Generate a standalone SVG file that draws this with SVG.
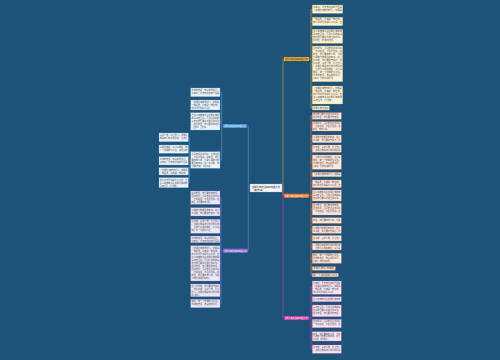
<svg xmlns="http://www.w3.org/2000/svg" width="500" height="360" viewBox="0 0 500 360">
<style>
.t{font-family:"Noto Sans CJK SC","Noto Sans",sans-serif;font-size:2.3px;fill:#555}
.lb{font-family:"Noto Sans CJK SC","Noto Sans",sans-serif;font-size:2.4px;fill:#fff}
.ln{fill:none;stroke-width:0.6}
.c1{fill:#eaf3fb;stroke:#6fa8dc;stroke-width:0.3}
.c2{fill:#ebe7f7;stroke:#8e7dd6;stroke-width:0.3}
.c3{fill:#fdf3d8;stroke:#d8b258;stroke-width:0.3}
.c4{fill:#fde6dc;stroke:#e89066;stroke-width:0.3}
.c5{fill:#f8e4f4;stroke:#cf5cbd;stroke-width:0.3}
</style>
<rect width="500" height="360" fill="#1d5378"/>
<g id="connectors">
<path class="ln" stroke="#5b9bd5" d="M250,188 H248.3 V126 H247"/>
<path class="ln" stroke="#8874d8" d="M248.3,188 V250.7 H248"/>
<path class="ln" stroke="#d6a940" d="M282,188 H283 V59 H284"/>
<path class="ln" stroke="#ea7a40" d="M283,188 V195.7 H284"/>
<path class="ln" stroke="#c640ad" d="M283,188 V318 H284"/>
<path class="ln" stroke="#5b9bd5" d="M223,126 H221.7 M221.7,92.35 V160 M220,92.35 H221.7 M220,105 H221.7 M220,121.35 H221.7 M220,160 H221.7"/>
<path class="ln" stroke="#5b9bd5" d="M190.7,160 H189.3 M189.3,137.35 V182.7 M188.3,137.35 H189.3 M188.3,149.15 H189.3 M188.3,160.85 H189.3 M188.3,171.35 H189.3 M188.3,182.7 H189.3"/>
<path class="ln" stroke="#8874d8" d="M223,250.7 H221 M221,197.65 V303.5 M220,197.65 H221 M220,211.85 H221 M220,226.3 H221 M220,239.35 H221 M220,263.35 H221 M220,290.35 H221 M220,303.5 H221"/>
<path class="ln" stroke="#d6a940" d="M309,59 H311 M311,9.15 V108 M311,9.15 H312.3 M311,21.5 H312.3 M311,36.3 H312.3 M311,63.85 H312.3 M311,95 H312.3 M311,108 H312.3"/>
<path class="ln" stroke="#ea7a40" d="M309,195.7 H311 M311,115.95 V275.05 M311,115.95 H312.3 M311,126.35 H312.3 M311,138.85 H312.3 M311,148.65 H312.3 M311,162.15 H312.3 M311,174.5 H312.3 M311,183.85 H312.3 M311,195.5 H312.3 M311,209.15 H312.3 M311,220.5 H312.3 M311,229.65 H312.3 M311,238.25 H312.3 M311,246.65 H312.3 M311,258.3 H312.3 M311,268.45 H312.3 M311,275.05 H312.3"/>
<path class="ln" stroke="#c640ad" d="M309,318 H311 M311,287.65 V349.15 M311,287.65 H312.3 M311,299.2 H312.3 M311,310.85 H312.3 M311,323.5 H312.3 M311,336.35 H312.3 M311,349.15 H312.3"/>
</g>
<g id="center">
<rect x="250" y="184" width="32" height="8" fill="#f4f6f8" stroke="#9ab" stroke-width="0.3"/>
<text class="t" x="252" y="187.6" textLength="28" lengthAdjust="spacingAndGlyphs" style="fill:#333">文明礼貌演讲稿四年级范文</text>
<text class="t" x="252" y="190.6" textLength="13" lengthAdjust="spacingAndGlyphs" style="fill:#333">（精选5篇）</text>
</g>
<g id="branch1">
<rect x="223" y="124" width="24" height="4" fill="#3d8fd1"/>
<text class="lb" x="224" y="126.9" textLength="22" lengthAdjust="spacingAndGlyphs">文明礼貌演讲稿四年级范文1</text>
</g>
<g id="branch2">
<rect x="223" y="248.7" width="25" height="4" fill="#7a62d0"/>
<text class="lb" x="224" y="251.6" textLength="23" lengthAdjust="spacingAndGlyphs">文明礼貌演讲稿四年级范文2</text>
</g>
<g id="branch3">
<rect x="284" y="57" width="25" height="4" fill="#e3ac34"/>
<text class="lb" x="285" y="59.9" textLength="23" lengthAdjust="spacingAndGlyphs" style="fill:#5a3a00">文明礼貌演讲稿四年级范文3</text>
</g>
<g id="branch4">
<rect x="284" y="193.7" width="25" height="4" fill="#ec6f2c"/>
<text class="lb" x="285" y="196.6" textLength="23" lengthAdjust="spacingAndGlyphs">文明礼貌演讲稿四年级范文4</text>
</g>
<g id="branch5">
<rect x="284" y="316" width="25" height="4" fill="#c8349f"/>
<text class="lb" x="285" y="318.9" textLength="23" lengthAdjust="spacingAndGlyphs">文明礼貌演讲稿四年级范文5</text>
</g>
<g id="b1-boxes">
<rect class="c1" x="190.7" y="88" width="29.3" height="8.7"/>
<text class="t" x="191.5" y="90.8" textLength="27.7" lengthAdjust="spacingAndGlyphs">尊敬的老师，亲爱的同学们：</text>
<text class="t" x="191.5" y="93.8" textLength="27.7" lengthAdjust="spacingAndGlyphs">大家好！今天我演讲的题目是</text>
<rect class="c1" x="190.7" y="100" width="29.3" height="10"/>
<text class="t" x="191.5" y="102.8" textLength="27.7" lengthAdjust="spacingAndGlyphs">《文明礼貌伴我行》。文明是</text>
<text class="t" x="191.5" y="105.8" textLength="27.7" lengthAdjust="spacingAndGlyphs">一种品质，礼貌是一种修养。</text>
<text class="t" x="191.5" y="108.8" textLength="18" lengthAdjust="spacingAndGlyphs">我们中华民族是礼仪之邦</text>
<rect class="c1" x="190.7" y="112.7" width="29.3" height="17.3"/>
<text class="t" x="191.5" y="115.5" textLength="27.7" lengthAdjust="spacingAndGlyphs">自古以来就有许多文明礼貌的</text>
<text class="t" x="191.5" y="118.5" textLength="27.7" lengthAdjust="spacingAndGlyphs">故事流传至今。孔融让梨的故</text>
<text class="t" x="191.5" y="121.5" textLength="27.7" lengthAdjust="spacingAndGlyphs">事告诉我们要学会谦让和尊重</text>
<text class="t" x="191.5" y="124.5" textLength="27.7" lengthAdjust="spacingAndGlyphs">。在学校里，我们要尊敬老师</text>
<text class="t" x="191.5" y="127.5" textLength="16" lengthAdjust="spacingAndGlyphs">，团结同学，互相帮助。</text>
<rect class="c1" x="190.7" y="151.7" width="29.3" height="16.6"/>
<text class="t" x="191.5" y="154.5" textLength="27.7" lengthAdjust="spacingAndGlyphs">见到老师主动问好，不说脏话</text>
<text class="t" x="191.5" y="157.5" textLength="27.7" lengthAdjust="spacingAndGlyphs">，不乱扔垃圾。在家里，我们</text>
<text class="t" x="191.5" y="160.5" textLength="27.7" lengthAdjust="spacingAndGlyphs">要孝敬父母，帮助父母做力所</text>
<text class="t" x="191.5" y="163.5" textLength="27.7" lengthAdjust="spacingAndGlyphs">能及的家务。在公共场所，我</text>
<text class="t" x="191.5" y="166.5" textLength="20" lengthAdjust="spacingAndGlyphs">们要遵守秩序，排队等候。</text>
<rect class="c1" x="159" y="133" width="29.3" height="8.7"/>
<text class="t" x="159.8" y="135.8" textLength="27.7" lengthAdjust="spacingAndGlyphs">爱护公物，礼让他人。文明礼</text>
<text class="t" x="159.8" y="138.8" textLength="27.7" lengthAdjust="spacingAndGlyphs">貌是我们成长的阶梯，让我们</text>
<rect class="c1" x="159" y="145" width="29.3" height="8.3"/>
<text class="t" x="159.8" y="147.8" textLength="27.7" lengthAdjust="spacingAndGlyphs">从现在做起，从小事做起，做</text>
<text class="t" x="159.8" y="150.8" textLength="27.7" lengthAdjust="spacingAndGlyphs">一个文明的小学生。谢谢大家</text>
<rect class="c1" x="159" y="156.7" width="29.3" height="8.3"/>
<text class="t" x="159.8" y="159.5" textLength="27.7" lengthAdjust="spacingAndGlyphs">尊敬的老师，亲爱的同学们：</text>
<text class="t" x="159.8" y="162.5" textLength="27.7" lengthAdjust="spacingAndGlyphs">大家好！今天我演讲的题目是</text>
<rect class="c1" x="159" y="167.7" width="29.3" height="7.3"/>
<text class="t" x="159.8" y="170.5" textLength="27.7" lengthAdjust="spacingAndGlyphs">《文明礼貌伴我行》。文明是</text>
<text class="t" x="159.8" y="173.5" textLength="27.7" lengthAdjust="spacingAndGlyphs">一种品质，礼貌是一种修养。</text>
<rect class="c1" x="159" y="177.7" width="29.3" height="10"/>
<text class="t" x="159.8" y="180.5" textLength="27.7" lengthAdjust="spacingAndGlyphs">我们中华民族是礼仪之邦，自</text>
<text class="t" x="159.8" y="183.5" textLength="27.7" lengthAdjust="spacingAndGlyphs">古以来就有许多文明礼貌的故</text>
<text class="t" x="159.8" y="186.5" textLength="18" lengthAdjust="spacingAndGlyphs">事流传至今，代代相传。</text>
</g>
<g id="b2-boxes">
<rect class="c2" x="190.7" y="191" width="29.3" height="13.3"/>
<text class="t" x="191.5" y="193.8" textLength="27.7" lengthAdjust="spacingAndGlyphs">在学校里，我们要尊敬老师，</text>
<text class="t" x="191.5" y="196.8" textLength="27.7" lengthAdjust="spacingAndGlyphs">团结同学，见到老师主动问好</text>
<text class="t" x="191.5" y="199.8" textLength="27.7" lengthAdjust="spacingAndGlyphs">，不说脏话，不乱扔垃圾。在</text>
<text class="t" x="191.5" y="202.8" textLength="20" lengthAdjust="spacingAndGlyphs">家里，我们要孝敬父母。</text>
<rect class="c2" x="190.7" y="207.7" width="29.3" height="8.3"/>
<text class="t" x="191.5" y="210.5" textLength="27.7" lengthAdjust="spacingAndGlyphs">父母做力所能及的家务。在公</text>
<text class="t" x="191.5" y="213.5" textLength="27.7" lengthAdjust="spacingAndGlyphs">共场所，我们要遵守秩序，排</text>
<rect class="c2" x="190.7" y="219.3" width="29.3" height="14"/>
<text class="t" x="191.5" y="222.1" textLength="27.7" lengthAdjust="spacingAndGlyphs">队等候，爱护公物，礼让他人</text>
<text class="t" x="191.5" y="225.1" textLength="27.7" lengthAdjust="spacingAndGlyphs">。文明礼貌是我们成长的阶梯</text>
<text class="t" x="191.5" y="228.1" textLength="27.7" lengthAdjust="spacingAndGlyphs">，让我们从现在做起，从小事</text>
<text class="t" x="191.5" y="231.1" textLength="20" lengthAdjust="spacingAndGlyphs">做起，做一个文明的小学生。</text>
<rect class="c2" x="190.7" y="236" width="29.3" height="6.7"/>
<text class="t" x="191.5" y="238.8" textLength="27.7" lengthAdjust="spacingAndGlyphs">尊敬的老师，亲爱的同学们：</text>
<text class="t" x="191.5" y="241.6" textLength="27.7" lengthAdjust="spacingAndGlyphs">大家好！今天我演讲的题目是</text>
<rect class="c2" x="190.7" y="245.7" width="29.3" height="35.3"/>
<text class="t" x="191.5" y="248.5" textLength="27.7" lengthAdjust="spacingAndGlyphs">《文明礼貌伴我行》。文明是</text>
<text class="t" x="191.5" y="251.5" textLength="27.7" lengthAdjust="spacingAndGlyphs">一种品质，礼貌是一种修养。</text>
<text class="t" x="191.5" y="254.5" textLength="27.7" lengthAdjust="spacingAndGlyphs">我们中华民族是礼仪之邦，自</text>
<text class="t" x="191.5" y="257.5" textLength="27.7" lengthAdjust="spacingAndGlyphs">古以来就有许多文明礼貌的故</text>
<text class="t" x="191.5" y="260.5" textLength="27.7" lengthAdjust="spacingAndGlyphs">事流传至今。孔融让梨的故事</text>
<text class="t" x="191.5" y="263.5" textLength="27.7" lengthAdjust="spacingAndGlyphs">告诉我们要学会谦让和尊重。</text>
<text class="t" x="191.5" y="266.5" textLength="27.7" lengthAdjust="spacingAndGlyphs">在学校里，我们要尊敬老师，</text>
<text class="t" x="191.5" y="269.5" textLength="27.7" lengthAdjust="spacingAndGlyphs">团结同学，见到老师主动问好</text>
<text class="t" x="191.5" y="272.5" textLength="27.7" lengthAdjust="spacingAndGlyphs">，不说脏话，不乱扔垃圾。在</text>
<text class="t" x="191.5" y="275.5" textLength="27.7" lengthAdjust="spacingAndGlyphs">家里，我们要孝敬父母，帮助</text>
<text class="t" x="191.5" y="278.5" textLength="19" lengthAdjust="spacingAndGlyphs">父母做力所能及的家务。</text>
<rect class="c2" x="190.7" y="284" width="29.3" height="12.7"/>
<text class="t" x="191.5" y="286.8" textLength="27.7" lengthAdjust="spacingAndGlyphs">在公共场所，我们要遵守秩序</text>
<text class="t" x="191.5" y="289.8" textLength="27.7" lengthAdjust="spacingAndGlyphs">，排队等候，爱护公物，礼让</text>
<text class="t" x="191.5" y="292.8" textLength="27.7" lengthAdjust="spacingAndGlyphs">他人。文明礼貌是我们成长的</text>
<text class="t" x="191.5" y="295.6" textLength="10" lengthAdjust="spacingAndGlyphs">阶梯。</text>
<rect class="c2" x="190.7" y="299.3" width="29.3" height="8.4"/>
<text class="t" x="191.5" y="302.1" textLength="27.7" lengthAdjust="spacingAndGlyphs">做起，做一个文明的小学生。</text>
<text class="t" x="191.5" y="305.1" textLength="27.7" lengthAdjust="spacingAndGlyphs">尊敬的老师，亲爱的同学们：</text>
</g>
<g id="b3-boxes">
<rect class="c3" x="312.3" y="5" width="30.4" height="8.3"/>
<text class="t" x="313.1" y="7.8" textLength="28.8" lengthAdjust="spacingAndGlyphs">大家好！今天我演讲的题目是</text>
<text class="t" x="313.1" y="10.8" textLength="28.8" lengthAdjust="spacingAndGlyphs">《文明礼貌伴我行》。文明是</text>
<rect class="c3" x="312.3" y="17.3" width="30.4" height="8.4"/>
<text class="t" x="313.1" y="20.1" textLength="28.8" lengthAdjust="spacingAndGlyphs">一种品质，礼貌是一种修养。</text>
<text class="t" x="313.1" y="23.1" textLength="28.8" lengthAdjust="spacingAndGlyphs">我们中华民族是礼仪之邦，自</text>
<rect class="c3" x="312.3" y="29.3" width="30.4" height="14"/>
<text class="t" x="313.1" y="32.1" textLength="28.8" lengthAdjust="spacingAndGlyphs">古以来就有许多文明礼貌的故</text>
<text class="t" x="313.1" y="35.1" textLength="28.8" lengthAdjust="spacingAndGlyphs">事流传至今。孔融让梨的故事</text>
<text class="t" x="313.1" y="38.1" textLength="28.8" lengthAdjust="spacingAndGlyphs">告诉我们要学会谦让和尊重。</text>
<text class="t" x="313.1" y="41.1" textLength="20" lengthAdjust="spacingAndGlyphs">在学校里，我们要尊敬老师</text>
<rect class="c3" x="312.3" y="46" width="30.4" height="35.7"/>
<text class="t" x="313.1" y="48.8" textLength="28.8" lengthAdjust="spacingAndGlyphs">团结同学，见到老师主动问好</text>
<text class="t" x="313.1" y="51.8" textLength="28.8" lengthAdjust="spacingAndGlyphs">，不说脏话，不乱扔垃圾。在</text>
<text class="t" x="313.1" y="54.8" textLength="28.8" lengthAdjust="spacingAndGlyphs">家里，我们要孝敬父母，帮助</text>
<text class="t" x="313.1" y="57.8" textLength="28.8" lengthAdjust="spacingAndGlyphs">父母做力所能及的家务。在公</text>
<text class="t" x="313.1" y="60.8" textLength="28.8" lengthAdjust="spacingAndGlyphs">共场所，我们要遵守秩序，排</text>
<text class="t" x="313.1" y="63.8" textLength="28.8" lengthAdjust="spacingAndGlyphs">队等候，爱护公物，礼让他人</text>
<text class="t" x="313.1" y="66.8" textLength="28.8" lengthAdjust="spacingAndGlyphs">。文明礼貌是我们成长的阶梯</text>
<text class="t" x="313.1" y="69.8" textLength="28.8" lengthAdjust="spacingAndGlyphs">，让我们从现在做起，从小事</text>
<text class="t" x="313.1" y="72.8" textLength="28.8" lengthAdjust="spacingAndGlyphs">做起，做一个文明的小学生。</text>
<text class="t" x="313.1" y="75.8" textLength="28.8" lengthAdjust="spacingAndGlyphs">尊敬的老师，亲爱的同学们：</text>
<text class="t" x="313.1" y="78.8" textLength="20" lengthAdjust="spacingAndGlyphs">大家好！今天我演讲的题目</text>
<rect class="c3" x="312.3" y="86" width="30.4" height="18"/>
<text class="t" x="313.1" y="88.8" textLength="28.8" lengthAdjust="spacingAndGlyphs">《文明礼貌伴我行》。文明是</text>
<text class="t" x="313.1" y="91.8" textLength="28.8" lengthAdjust="spacingAndGlyphs">一种品质，礼貌是一种修养。</text>
<text class="t" x="313.1" y="94.8" textLength="28.8" lengthAdjust="spacingAndGlyphs">我们中华民族是礼仪之邦，自</text>
<text class="t" x="313.1" y="97.8" textLength="28.8" lengthAdjust="spacingAndGlyphs">古以来就有许多文明礼貌的故</text>
<text class="t" x="313.1" y="100.8" textLength="20" lengthAdjust="spacingAndGlyphs">事流传至今，代代相传。</text>
<rect class="c3" x="312.3" y="106" width="17" height="4"/>
<text class="t" x="313.1" y="108.8" textLength="15.4" lengthAdjust="spacingAndGlyphs">文明礼貌演讲稿</text>
</g>
<g id="b4-boxes">
<rect class="c4" x="312.3" y="112.7" width="29" height="6.5"/>
<text class="t" x="313.1" y="115.3" textLength="27.4" lengthAdjust="spacingAndGlyphs">告诉我们要学会谦让和尊重。</text>
<text class="t" x="313.1" y="118.2" textLength="27.4" lengthAdjust="spacingAndGlyphs">在学校里，我们要尊敬老师，</text>
<rect class="c4" x="312.3" y="121.7" width="29" height="9.3"/>
<text class="t" x="313.1" y="124.4" textLength="27.4" lengthAdjust="spacingAndGlyphs">团结同学，见到老师主动问好</text>
<text class="t" x="313.1" y="127.2" textLength="27.4" lengthAdjust="spacingAndGlyphs">，不说脏话，不乱扔垃圾。在</text>
<text class="t" x="313.1" y="130" textLength="16" lengthAdjust="spacingAndGlyphs">家里，孝敬父母。</text>
<rect class="c4" x="312.3" y="135" width="29" height="7.7"/>
<text class="t" x="313.1" y="137.8" textLength="27.4" lengthAdjust="spacingAndGlyphs">父母做力所能及的家务。在公</text>
<text class="t" x="313.1" y="140.8" textLength="27.4" lengthAdjust="spacingAndGlyphs">共场所，我们要遵守秩序，排</text>
<rect class="c4" x="312.3" y="145" width="29" height="7.3"/>
<text class="t" x="313.1" y="147.8" textLength="27.4" lengthAdjust="spacingAndGlyphs">队等候，爱护公物，礼让他人</text>
<text class="t" x="313.1" y="150.8" textLength="27.4" lengthAdjust="spacingAndGlyphs">。文明礼貌是我们成长的阶梯</text>
<rect class="c4" x="312.3" y="155" width="29" height="14.3"/>
<text class="t" x="313.1" y="157.8" textLength="27.4" lengthAdjust="spacingAndGlyphs">，让我们从现在做起，从小事</text>
<text class="t" x="313.1" y="160.8" textLength="27.4" lengthAdjust="spacingAndGlyphs">做起，做一个文明的小学生。</text>
<text class="t" x="313.1" y="163.8" textLength="27.4" lengthAdjust="spacingAndGlyphs">尊敬的老师，亲爱的同学们：</text>
<text class="t" x="313.1" y="166.8" textLength="20" lengthAdjust="spacingAndGlyphs">大家好！今天我演讲的题目</text>
<rect class="c4" x="312.3" y="172.3" width="29" height="4.4"/>
<text class="t" x="313.1" y="175.3" textLength="27.4" lengthAdjust="spacingAndGlyphs">《文明礼貌伴我行》。文明是</text>
<rect class="c4" x="312.3" y="180" width="29" height="7.7"/>
<text class="t" x="313.1" y="182.8" textLength="27.4" lengthAdjust="spacingAndGlyphs">一种品质，礼貌是一种修养。</text>
<text class="t" x="313.1" y="185.8" textLength="27.4" lengthAdjust="spacingAndGlyphs">我们中华民族是礼仪之邦，自</text>
<rect class="c4" x="312.3" y="190" width="29" height="11"/>
<text class="t" x="313.1" y="192.8" textLength="27.4" lengthAdjust="spacingAndGlyphs">古以来就有许多文明礼貌的故</text>
<text class="t" x="313.1" y="195.8" textLength="27.4" lengthAdjust="spacingAndGlyphs">事流传至今。孔融让梨的故事</text>
<text class="t" x="313.1" y="198.8" textLength="27.4" lengthAdjust="spacingAndGlyphs">告诉我们要学会谦让和尊重。</text>
<rect class="c4" x="312.3" y="203.3" width="29" height="11.7"/>
<text class="t" x="313.1" y="206.1" textLength="27.4" lengthAdjust="spacingAndGlyphs">在学校里，我们要尊敬老师，</text>
<text class="t" x="313.1" y="209.1" textLength="27.4" lengthAdjust="spacingAndGlyphs">团结同学，见到老师主动问好</text>
<text class="t" x="313.1" y="212.1" textLength="27.4" lengthAdjust="spacingAndGlyphs">，不说脏话，不乱扔垃圾。在</text>
<rect class="c4" x="312.3" y="217.7" width="29" height="5.6"/>
<text class="t" x="313.1" y="221.3" textLength="27.4" lengthAdjust="spacingAndGlyphs">家里，我们要孝敬父母，帮助</text>
<rect class="c4" x="312.3" y="226" width="29" height="7.3"/>
<text class="t" x="313.1" y="228.8" textLength="27.4" lengthAdjust="spacingAndGlyphs">父母做力所能及的家务。在公</text>
<text class="t" x="313.1" y="231.8" textLength="27.4" lengthAdjust="spacingAndGlyphs">共场所，我们要遵守秩序，排</text>
<rect class="c4" x="312.3" y="235.5" width="29" height="5.5"/>
<text class="t" x="313.1" y="239" textLength="27.4" lengthAdjust="spacingAndGlyphs">队等候，爱护公物，礼让他人</text>
<rect class="c4" x="312.3" y="243.3" width="29" height="6.7"/>
<text class="t" x="313.1" y="246.1" textLength="27.4" lengthAdjust="spacingAndGlyphs">。文明礼貌是我们成长的阶梯</text>
<text class="t" x="313.1" y="249" textLength="27.4" lengthAdjust="spacingAndGlyphs">，让我们从现在做起，从小事</text>
<rect class="c4" x="312.3" y="253.3" width="29" height="10"/>
<text class="t" x="313.1" y="256.1" textLength="27.4" lengthAdjust="spacingAndGlyphs">做起，做一个文明的小学生。</text>
<text class="t" x="313.1" y="259.1" textLength="27.4" lengthAdjust="spacingAndGlyphs">尊敬的老师，亲爱的同学们：</text>
<text class="t" x="313.1" y="262.1" textLength="18" lengthAdjust="spacingAndGlyphs">大家好！我的演讲完毕。</text>
<rect class="c4" x="312.3" y="266.7" width="23" height="3.5"/>
<text class="t" x="313.1" y="269.3" textLength="21.4" lengthAdjust="spacingAndGlyphs">文明礼貌从我做起</text>
<rect class="c4" x="312.3" y="273.3" width="26" height="3.5"/>
<text class="t" x="313.1" y="275.9" textLength="24.4" lengthAdjust="spacingAndGlyphs">做一个讲文明的小学生</text>
</g>
<g id="b5-boxes">
<rect class="c5" x="312.3" y="281" width="29" height="13.3"/>
<text class="t" x="313.1" y="283.8" textLength="27.4" lengthAdjust="spacingAndGlyphs">大家好！今天我演讲的题目是</text>
<text class="t" x="313.1" y="286.8" textLength="27.4" lengthAdjust="spacingAndGlyphs">《文明礼貌伴我行》。文明是</text>
<text class="t" x="313.1" y="289.8" textLength="27.4" lengthAdjust="spacingAndGlyphs">一种品质，礼貌是一种修养。</text>
<text class="t" x="313.1" y="292.8" textLength="20" lengthAdjust="spacingAndGlyphs">我们中华民族是礼仪之邦</text>
<rect class="c5" x="312.3" y="296.7" width="29" height="5"/>
<text class="t" x="313.1" y="300" textLength="27.4" lengthAdjust="spacingAndGlyphs">古以来就有许多文明礼貌的故</text>
<rect class="c5" x="312.3" y="305" width="29" height="11.7"/>
<text class="t" x="313.1" y="307.8" textLength="27.4" lengthAdjust="spacingAndGlyphs">事流传至今。孔融让梨的故事</text>
<text class="t" x="313.1" y="310.8" textLength="27.4" lengthAdjust="spacingAndGlyphs">告诉我们要学会谦让和尊重。</text>
<text class="t" x="313.1" y="313.8" textLength="27.4" lengthAdjust="spacingAndGlyphs">在学校里，我们要尊敬老师，</text>
<rect class="c5" x="312.3" y="319.3" width="29" height="8.4"/>
<text class="t" x="313.1" y="322.1" textLength="27.4" lengthAdjust="spacingAndGlyphs">团结同学，见到老师主动问好</text>
<text class="t" x="313.1" y="325.1" textLength="27.4" lengthAdjust="spacingAndGlyphs">，不说脏话，不乱扔垃圾。在</text>
<rect class="c5" x="312.3" y="331.7" width="29" height="9.3"/>
<text class="t" x="313.1" y="334.5" textLength="27.4" lengthAdjust="spacingAndGlyphs">家里，我们要孝敬父母，帮助</text>
<text class="t" x="313.1" y="337.4" textLength="27.4" lengthAdjust="spacingAndGlyphs">父母做力所能及的家务。在公</text>
<text class="t" x="313.1" y="340.2" textLength="16" lengthAdjust="spacingAndGlyphs">共场所，遵守秩序。</text>
<rect class="c5" x="312.3" y="345" width="29" height="8.3"/>
<text class="t" x="313.1" y="347.8" textLength="27.4" lengthAdjust="spacingAndGlyphs">队等候，爱护公物，礼让他人</text>
<text class="t" x="313.1" y="350.8" textLength="27.4" lengthAdjust="spacingAndGlyphs">。文明礼貌是我们成长的阶梯</text>
</g>
</svg>
